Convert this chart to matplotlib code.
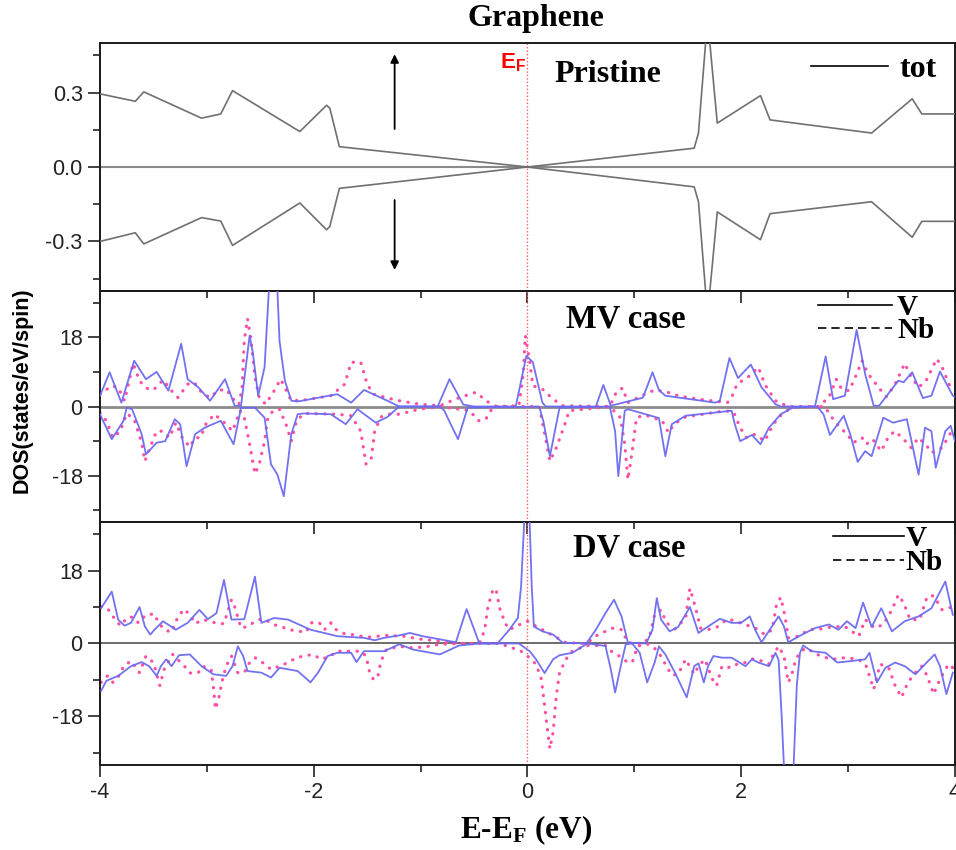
import matplotlib
matplotlib.use("Agg")
import matplotlib.pyplot as plt
from matplotlib.lines import Line2D
from matplotlib.ticker import MultipleLocator, FixedLocator

plt.rcParams["axes.unicode_minus"] = False
plt.rcParams["mathtext.fontset"] = "custom"
plt.rcParams["mathtext.rm"] = "Liberation Serif:bold"
plt.rcParams["mathtext.sf"] = "Liberation Sans:bold"

# ---------------- pristine graphene, total DOS ----------------
tot_up_e = [-4.0, -3.67, -3.59, -3.05, -2.87, -2.76, -2.13, -1.88, -1.85, -1.76, 0.0,
            1.56, 1.60, 1.685, 1.776, 2.18, 2.27, 3.22, 3.60, 3.69, 4.0]
tot_up = [0.295, 0.265, 0.303, 0.197, 0.214, 0.308, 0.143, 0.249, 0.238, 0.082, 0.0,
          0.076, 0.137, 0.60, 0.177, 0.288, 0.19, 0.137, 0.275, 0.214, 0.214]
tot_dn_e = [-4.0, -3.67, -3.59, -3.05, -2.87, -2.76, -2.13, -1.88, -1.85, -1.76, 0.0,
            1.56, 1.60, 1.685, 1.776, 2.18, 2.27, 3.22, 3.60, 3.69, 4.0]
tot_dn = [-0.30, -0.265, -0.31, -0.204, -0.218, -0.316, -0.145, -0.253, -0.24, -0.086, 0.0,
          -0.080, -0.14, -0.60, -0.181, -0.293, -0.188, -0.14, -0.283, -0.219, -0.219]

# ---------------- MV case ----------------
mv_v_up_e = [-4.00, -3.91, -3.80, -3.68, -3.57, -3.47, -3.36, -3.24, -3.18, -3.08, -2.97,
             -2.83, -2.74, -2.68, -2.60, -2.57, -2.52, -2.46, -2.42, -2.38, -2.34, -2.32,
             -2.27, -2.21, -2.15, -1.78, -1.65, -1.53, -1.31, -1.20, -0.84, -0.73, -0.60,
             -0.50, -0.11, -0.01, 0.05, 0.14, 0.17, 0.64, 0.71, 0.78, 1.08, 1.17, 1.23,
             1.29, 1.76, 1.80, 1.89, 1.97, 2.09, 2.19, 2.32, 2.37, 2.69, 2.79, 2.86, 2.97,
             3.08, 3.16, 3.24, 3.29, 3.47, 3.52, 3.60, 3.70, 3.78, 3.86, 3.98, 4.00]
mv_v_up = [2.8, 8.9, 1.0, 11.9, 7.1, 9.0, 4.1, 16.3, 7.1, 5.0, 1.5,
           7.1, 0.2, 0.2, 18.4, 14.0, 2.8, 10.2, 30.2, 40.0, 30.2, 17.0,
           6.7, 1.5, 1.3, 3.2, 1.0, 4.3, 1.5, 0.0, 0.0, 7.1, 0.5,
           0.0, 0.0, 13.2, 11.5, 1.0, 0.0, 0.0, 5.6, 0.2, 2.3, 8.9, 4.3,
           2.8, 1.0, 1.5, 12.6, 7.4, 10.9, 5.0, 0.6, 0.0, 0.0, 13.0, 1.9, 2.8,
           19.9, 8.4, 0.2, 0.2, 6.7, 6.3, 8.9, 2.2, 2.8, 9.1, 2.8, 2.5]
mv_v_dn_e = [-4.00, -3.89, -3.78, -3.75, -3.70, -3.61, -3.57, -3.47, -3.39, -3.30, -3.25,
             -3.19, -3.11, -3.02, -2.87, -2.75, -2.68, -2.55, -2.46, -2.40, -2.34, -2.28,
             -2.21, -2.15, -2.09, -1.84, -1.70, -1.59, -1.42, -1.31, -1.20, -0.82, -0.78,
             -0.65, -0.56, 0.11, 0.15, 0.21, 0.30, 0.77, 0.82, 0.85, 0.91, 0.94, 1.23,
             1.29, 1.35, 1.48, 1.91, 1.94, 1.99, 2.10, 2.18, 2.26, 2.37, 2.48, 2.71, 2.77,
             2.83, 2.96, 3.02, 3.09, 3.16, 3.22, 3.33, 3.42, 3.55, 3.66, 3.72, 3.78, 3.82,
             3.91, 3.96, 4.00]
mv_v_dn = [-2.0, -8.5, -3.7, -0.3, -0.7, -7.2, -12.4, -9.4, -9.0, -3.3, -4.6,
           -15.5, -7.2, -5.5, -3.7, -9.8, -0.3, -0.3, -2.9, -15.0, -17.7, -23.3,
           -7.2, -2.0, -1.8, -2.0, -4.6, -0.7, -4.2, -2.7, 0.0, 0.0, -1.0,
           -8.5, -0.3, 0.0, -4.0, -12.9, -0.3, 0.0, -6.4, -18.1, -1.1, -0.7, -3.0,
           -12.9, -4.6, -2.4, -1.1, -4.6, -9.0, -7.4, -9.8, -5.5, -2.0, -0.3, 0.0, -2.0,
           -7.4, -2.4, -7.2, -14.4, -11.6, -12.9, -2.9, -4.2, -3.3, -17.7, -5.5, -6.4, -15.9,
           -6.4, -5.0, -9.0]
mv_nb_up_e = [-4.00, -3.89, -3.83, -3.77, -3.69, -3.63, -3.57, -3.50, -3.41, -3.33, -3.27,
              -3.18, -3.12, -3.05, -2.97, -2.90, -2.82, -2.74, -2.70, -2.67, -2.65, -2.62,
              -2.59, -2.55, -2.51, -2.45, -2.37, -2.31, -2.27, -2.21, -2.09, -1.84, -1.71,
              -1.65, -1.56, -1.50, -1.44, -1.31, -1.20, -1.01, -0.82, -0.64, -0.48, -0.39,
              -0.29, -0.08, -0.04, -0.02, 0.02, 0.05, 0.14, 0.24, 0.33, 0.77, 0.83, 0.89,
              0.94, 1.10, 1.19, 1.30, 1.41, 1.60, 1.87, 1.91, 1.96, 2.08, 2.16, 2.22, 2.32,
              2.44, 2.72, 2.82, 2.89, 2.94, 3.01, 3.08, 3.13, 3.19, 3.31, 3.36, 3.44, 3.53,
              3.59, 3.66, 3.73, 3.83, 3.88, 3.97]
mv_nb_up = [3.2, 5.4, 4.9, 1.5, 11.2, 6.7, 4.8, 4.3, 6.9, 4.1, 2.3,
            5.8, 6.3, 3.7, 2.3, 4.1, 4.5, 1.5, 0.5, 5.0, 17.1, 22.8,
            18.0, 7.6, 2.3, 0.6, 4.1, 7.1, 4.9, 1.5, 1.7, 2.8, 5.8,
            11.5, 11.5, 5.8, 3.2, 2.2, 1.5, 0.6, 0.2, 2.3, 3.7, 1.5,
            0.0, 0.2, 8.4, 18.4, 11.9, 5.4, 4.5, 1.9, 0.2, 0.0, 3.7, 4.8,
            1.0, 3.2, 4.3, 3.8, 2.8, 1.9, 1.0, 2.3, 5.8, 8.0, 10.2, 5.8, 1.5,
            0.0, 0.0, 2.3, 7.1, 4.5, 4.1, 8.4, 11.9, 8.4, 4.1, 2.5, 5.8, 11.2,
            7.7, 5.0, 6.7, 12.4, 10.2, 4.1]
mv_nb_dn_e = [-4.00, -3.94, -3.88, -3.81, -3.75, -3.68, -3.61, -3.58, -3.52, -3.47, -3.41,
              -3.35, -3.29, -3.23, -3.16, -3.11, -3.06, -3.01, -2.93, -2.82, -2.76, -2.69,
              -2.65, -2.60, -2.55, -2.51, -2.46, -2.43, -2.38, -2.32, -2.26, -2.21, -2.16,
              -2.09, -1.78, -1.65, -1.56, -1.51, -1.46, -1.43, -1.37, -1.31, -1.20, -1.01,
              -0.82, -0.54, -0.46, -0.39, -0.32, 0.11, 0.18, 0.21, 0.27, 0.35, 0.39, 0.77,
              0.87, 0.91, 0.94, 0.98, 1.02, 1.10, 1.26, 1.32, 1.37, 1.48, 1.85, 1.93, 1.99,
              2.05, 2.13, 2.22, 2.30, 2.38, 2.47, 2.78, 2.85, 2.91, 2.99, 3.05, 3.13, 3.17,
              3.23, 3.31, 3.38, 3.44, 3.52, 3.59, 3.66, 3.75, 3.78, 3.88, 3.97]
mv_nb_dn = [-1.6, -3.7, -8.1, -6.4, -1.8, -3.3, -9.4, -14.2, -9.8, -6.4, -6.4,
            -8.1, -4.2, -8.1, -10.5, -8.1, -8.1, -4.6, -2.0, -4.6, -6.4, -1.1,
            -2.9, -9.8, -17.5, -15.0, -9.0, -2.9, -1.1, -0.7, -4.6, -9.0, -3.7,
            -1.8, -2.0, -2.4, -6.4, -15.0, -13.3, -6.4, -2.7, -2.0, -2.0, -0.7,
            0.0, -1.1, -3.7, -3.3, 0.0, 0.0, -9.8, -14.2, -10.7, -4.6, -1.1, 0.0,
            -2.9, -9.8, -19.0, -11.6, -2.9, -2.2, -3.7, -6.8, -4.6, -2.7, -1.1, -1.5, -5.5,
            -8.1, -7.2, -9.0, -4.6, -2.0, -0.3, 0.0, -2.9, -5.0, -7.2, -9.4, -8.1, -9.8,
            -8.5, -11.6, -7.7, -6.4, -8.5, -10.7, -8.1, -10.7, -12.0, -10.7, -6.4]

# ---------------- DV case ----------------
dv_v_up_e = [-3.99, -3.89, -3.83, -3.77, -3.71, -3.63, -3.58, -3.53, -3.49, -3.41, -3.29,
             -3.18, -3.07, -2.99, -2.91, -2.84, -2.77, -2.65, -2.55, -2.49, -2.37, -2.24,
             -2.03, -1.84, -1.78, -1.53, -1.43, -1.34, -1.20, -1.10, -0.98, -0.67, -0.57,
             -0.45, -0.28, -0.17, -0.09, -0.06, -0.03, -0.01, 0.02, 0.04, 0.06, 0.14, 0.24,
             0.33, 0.55, 0.64, 0.73, 0.81, 0.88, 0.94, 1.11, 1.17, 1.21, 1.25, 1.33, 1.41,
             1.52, 1.60, 1.69, 1.80, 1.91, 2.00, 2.08, 2.13, 2.19, 2.35, 2.40, 2.44, 2.57,
             2.69, 2.82, 2.91, 2.99, 3.07, 3.14, 3.22, 3.31, 3.41, 3.53, 3.66, 3.78, 3.91,
             3.98]
dv_v_up = [8.7, 12.8, 5.9, 4.4, 5.1, 9.0, 4.2, 2.2, 3.4, 5.5, 3.4,
           5.1, 8.3, 6.0, 7.5, 15.7, 5.9, 6.0, 16.5, 5.1, 6.3, 5.9,
           3.4, 2.2, 1.8, 1.4, 0.8, 1.4, 2.0, 2.6, 1.8, 0.3, 8.5,
           0.0, 0.0, 3.4, 6.3, 14.0, 30.4, 42.0, 30.4, 14.0, 4.2, 3.0, 2.2,
           0.2, 0.0, 3.4, 7.5, 10.8, 6.7, 0.2, 0.0, 3.4, 11.2, 5.9, 3.0, 4.1,
           9.0, 2.6, 4.2, 6.1, 5.1, 5.1, 6.7, 3.4, 0.3, 6.7, 4.2, 0.3, 2.2,
           3.8, 4.7, 3.4, 5.5, 3.8, 10.1, 4.1, 8.7, 3.0, 5.5, 6.7, 8.7, 15.3,
           7.1]
dv_v_dn_e = [-3.99, -3.94, -3.83, -3.71, -3.61, -3.54, -3.47, -3.43, -3.38, -3.33, -3.26,
             -3.16, -3.05, -2.94, -2.82, -2.76, -2.71, -2.66, -2.62, -2.49, -2.40, -2.32,
             -2.15, -2.03, -1.96, -1.87, -1.78, -1.65, -1.60, -1.53, -1.34, -1.20, -1.07,
             -0.82, -0.64, -0.45, -0.08, 0.02, 0.08, 0.16, 0.24, 0.30, 0.42, 0.56, 0.73,
             0.78, 0.82, 0.88, 0.92, 0.98, 1.05, 1.12, 1.19, 1.23, 1.29, 1.38, 1.49, 1.56,
             1.60, 1.65, 1.69, 1.74, 1.82, 1.91, 2.04, 2.10, 2.16, 2.26, 2.32, 2.35, 2.38,
             2.40, 2.44, 2.49, 2.52, 2.55, 2.58, 2.66, 2.79, 2.90, 3.04, 3.16, 3.20, 3.27,
             3.35, 3.44, 3.53, 3.63, 3.75, 3.81, 3.86, 3.92, 3.98]
dv_v_dn = [-11.7, -9.2, -8.0, -5.6, -4.6, -5.6, -8.0, -5.6, -3.9, -5.6, -2.9,
           -2.7, -5.6, -7.6, -8.0, -5.6, -0.7, -3.1, -6.8, -7.2, -8.4, -6.0,
           -6.8, -9.6, -7.2, -3.1, -2.3, -2.3, -4.6, -1.9, -1.9, -0.2, -1.5,
           -2.7, -0.5, 0.0, 0.0, -1.9, -3.9, -7.3, -3.9, -2.9, -2.3, 0.0, -0.6,
           -6.4, -12.1, -4.7, -0.2, 0.0, -2.3, -9.6, -4.7, -0.7, -2.7, -7.2, -13.3, -5.6,
           -4.9, -9.6, -5.6, -3.1, -3.5, -3.5, -5.6, -3.9, -4.7, -5.6, -2.3, -4.0, -18.6,
           -30.5, -42.0, -30.5, -10.4, -2.3, -0.5, -1.9, -2.3, -4.7, -4.3, -3.9, -2.3, -9.6,
           -6.0, -4.7, -5.6, -7.6, -4.3, -2.7, -5.6, -12.5, -7.2]
dv_nb_up_e = [-3.99, -3.93, -3.88, -3.81, -3.74, -3.69, -3.64, -3.57, -3.49, -3.46, -3.40,
              -3.33, -3.27, -3.21, -3.15, -3.11, -3.04, -2.97, -2.90, -2.84, -2.77, -2.74,
              -2.68, -2.62, -2.52, -2.46, -2.38, -2.30, -2.23, -2.13, -2.07, -2.03, -1.95,
              -1.90, -1.84, -1.79, -1.71, -1.64, -1.56, -1.48, -1.40, -1.32, -1.16, -1.01,
              -0.82, -0.64, -0.45, -0.40, -0.37, -0.32, -0.29, -0.26, -0.21, -0.17, -0.07,
              0.00, 0.05, 0.14, 0.25, 0.36, 0.55, 0.66, 0.80, 0.88, 0.94, 1.08, 1.14, 1.19,
              1.25, 1.30, 1.38, 1.48, 1.52, 1.57, 1.62, 1.68, 1.76, 1.87, 1.96, 2.02, 2.10,
              2.16, 2.22, 2.29, 2.33, 2.37, 2.41, 2.44, 2.54, 2.63, 2.75, 2.85, 2.97, 3.10,
              3.16, 3.25, 3.33, 3.41, 3.47, 3.52, 3.58, 3.67, 3.74, 3.80, 3.88, 3.97]
dv_nb_up = [9.1, 8.7, 6.7, 4.4, 6.5, 6.5, 5.1, 7.1, 7.3, 5.5, 3.4,
            2.8, 6.7, 8.5, 6.7, 4.9, 5.9, 5.5, 4.9, 4.9, 10.8, 9.1,
            3.8, 4.2, 5.9, 6.0, 4.7, 4.1, 3.4, 3.0, 2.8, 5.1, 5.2,
            3.4, 5.1, 3.4, 2.4, 2.2, 1.8, 1.6, 1.8, 2.0, 1.8, 1.1,
            0.6, 0.0, 0.0, 3.4, 9.1, 13.6, 12.8, 8.7, 5.1, 3.4, 4.7,
            5.5, 4.7, 3.4, 1.8, 0.2, 0.0, 2.2, 3.8, 3.4, 0.2, 0.0, 1.4, 7.1,
            8.3, 5.1, 3.6, 6.3, 13.6, 9.1, 3.8, 3.4, 3.8, 6.0, 5.5, 4.7, 4.2,
            3.4, 2.2, 3.4, 9.6, 11.4, 6.7, 1.4, 1.8, 3.4, 3.6, 4.1, 4.2, 1.8,
            5.9, 3.8, 4.7, 8.3, 12.0, 10.0, 5.9, 5.9, 11.6, 11.8, 8.3, 9.0]
dv_nb_dn_e = [-3.99, -3.93, -3.88, -3.81, -3.78, -3.71, -3.63, -3.57, -3.50, -3.44, -3.40,
              -3.32, -3.21, -3.16, -3.08, -3.04, -2.96, -2.94, -2.92, -2.89, -2.86, -2.82,
              -2.77, -2.71, -2.65, -2.60, -2.55, -2.48, -2.40, -2.32, -2.24, -2.16, -2.09,
              -2.01, -1.93, -1.84, -1.79, -1.71, -1.64, -1.56, -1.51, -1.48, -1.44, -1.40,
              -1.37, -1.32, -1.20, -1.07, -0.95, -0.82, -0.64, -0.26, -0.14, -0.06, 0.00,
              0.08, 0.13, 0.16, 0.19, 0.21, 0.24, 0.27, 0.30, 0.36, 0.42, 0.55, 0.73, 0.80,
              0.86, 0.92, 0.98, 1.03, 1.11, 1.17, 1.23, 1.30, 1.35, 1.41, 1.48, 1.56, 1.60,
              1.66, 1.73, 1.77, 1.82, 1.91, 1.96, 2.04, 2.11, 2.19, 2.26, 2.30, 2.35, 2.40,
              2.44, 2.47, 2.51, 2.55, 2.60, 2.66, 2.74, 2.85, 2.97, 3.10, 3.17, 3.24, 3.30,
              3.38, 3.44, 3.50, 3.56, 3.63, 3.69, 3.74, 3.80, 3.86, 3.94, 3.98]
dv_nb_dn = [-9.6, -8.0, -9.6, -7.6, -5.6, -4.3, -7.2, -3.1, -4.7, -10.4, -6.4,
            -2.7, -5.6, -7.3, -7.2, -5.6, -6.4, -10.4, -16.2, -13.7, -9.6, -5.6,
            -3.1, -7.2, -7.2, -4.7, -3.5, -4.7, -6.4, -5.6, -4.7, -3.5, -3.1,
            -2.7, -3.9, -3.1, -1.9, -1.9, -1.9, -1.9, -3.1, -6.8, -9.0, -8.0,
            -4.3, -1.5, -0.7, -1.1, -0.8, -0.2, 0.0, 0.0, -1.1, -1.9, -3.1,
            -5.1, -8.8, -15.3, -21.9, -26.0, -21.9, -12.9, -7.2, -3.9, -1.9, -0.5, -0.5, -2.3,
            -3.1, -4.3, -4.7, -0.7, 0.0, -0.7, -2.3, -5.6, -7.8, -7.6, -3.9, -7.6, -5.6,
            -3.9, -8.8, -10.4, -5.6, -6.0, -5.1, -4.7, -3.8, -4.3, -5.1, -2.7, -0.7, -3.1,
            -9.6, -8.0, -3.9, -2.3, -1.1, -1.9, -3.1, -3.9, -3.5, -3.9, -5.6, -11.3, -5.1,
            -6.0, -10.4, -13.3, -9.6, -7.2, -5.6, -8.0, -12.5, -8.8, -5.1, -6.0]

# ---------------- styling ----------------
SANS = "Liberation Sans"
SERIF = "Liberation Serif"
BLUE = "#6a6af2"
PINK = "#ff4fa3"
GREY = "#707070"
EF_RED = "#ff5a5a"
TICK_FS = 15.5

fig = plt.figure(figsize=(9.56, 8.5), dpi=100)
left, width = 0.1046, 0.8943
ax_top = fig.add_axes([left, 0.6576, width, 0.2918])
ax_mid = fig.add_axes([left, 0.3859, width, 0.2717])
ax_bot = fig.add_axes([left, 0.1000, width, 0.2859])
axes = [ax_top, ax_mid, ax_bot]

for ax in axes:
    ax.set_facecolor("none")
    ax.set_xlim(-4, 4)
    ax.xaxis.set_major_locator(MultipleLocator(2))
    ax.xaxis.set_minor_locator(MultipleLocator(1))
    ax.tick_params(which="major", direction="out", length=8.5, width=1.2,
                   labelsize=TICK_FS, colors="#222222", pad=4)
    ax.tick_params(which="minor", direction="out", length=5, width=1.2, colors="#222222")
    for lab in ax.get_xticklabels() + ax.get_yticklabels():
        lab.set_fontfamily(SANS)
    for sp in ax.spines.values():
        sp.set_linewidth(1.4)
        sp.set_color("#1a1a1a")
    ax.axvline(0, color=EF_RED, lw=1.0, ls=(0, (1, 1.5)), zorder=1)

ax_top.tick_params(axis="x", labelbottom=False)
ax_mid.tick_params(axis="x", labelbottom=False)

# top panel
ax_top.set_ylim(-0.5, 0.5)
ax_top.yaxis.set_major_locator(FixedLocator([-0.3, 0.0, 0.3]))
ax_top.yaxis.set_minor_locator(FixedLocator([-0.45, -0.15, 0.15, 0.45]))
ax_top.set_yticklabels(["-0.3", "0.0", "0.3"], fontfamily=SANS)
ax_top.axhline(0, color="#8a8a8a", lw=1.5, zorder=1)
ax_top.plot(tot_up_e, tot_up, color=GREY, lw=1.2, zorder=3)
ax_top.plot(tot_dn_e, tot_dn, color=GREY, lw=1.2, zorder=3)
ax_top.annotate("", xy=(-1.243, 0.466), xytext=(-1.243, 0.142),
                arrowprops=dict(arrowstyle="-|>", color="black", lw=1.3, mutation_scale=12))
ax_top.annotate("", xy=(-1.243, -0.426), xytext=(-1.243, -0.122),
                arrowprops=dict(arrowstyle="-|>", color="black", lw=1.3, mutation_scale=12))
ax_top.text(0.532, 0.843, "Pristine", transform=ax_top.transAxes, ha="left", va="baseline",
            fontfamily=SERIF, fontweight="bold", fontsize=23)
ax_top.text(0.468, 0.899, r"$\mathsf{E}_\mathsf{F}$", transform=ax_top.transAxes,
            ha="left", va="baseline", color="red", fontsize=16)

# MV and DV panels
for ax in (ax_mid, ax_bot):
    ax.set_ylim(-30, 30)
    ax.yaxis.set_major_locator(FixedLocator([-18, 0, 18]))
    ax.yaxis.set_minor_locator(FixedLocator([-27, -9, 9, 27]))
    ax.set_yticklabels(["-18", "0", "18"], fontfamily=SANS)

ax_mid.axhline(0, color="#8c8c8c", lw=2.0, zorder=1)
ax_bot.axhline(0, color="#555555", lw=1.2, zorder=1)

dot_style = dict(color=PINK, lw=2.3, ls=(0, (0.1, 2.6)), dash_capstyle="round", zorder=2)
line_style = dict(color=BLUE, lw=1.3, alpha=0.95, zorder=3)

ax_mid.plot(mv_nb_up_e, mv_nb_up, **dot_style)
ax_mid.plot(mv_nb_dn_e, mv_nb_dn, **dot_style)
ax_mid.plot(mv_v_up_e, mv_v_up, **line_style)
ax_mid.plot(mv_v_dn_e, mv_v_dn, **line_style)

ax_bot.plot(dv_nb_up_e, dv_nb_up, **dot_style)
ax_bot.plot(dv_nb_dn_e, dv_nb_dn, **dot_style)
ax_bot.plot(dv_v_up_e, dv_v_up, **line_style)
ax_bot.plot(dv_v_dn_e, dv_v_dn, **line_style)

ax_mid.text(0.545, 0.840, "MV case", transform=ax_mid.transAxes, ha="left", va="baseline",
            fontfamily=SERIF, fontweight="bold", fontsize=23.5)
ax_bot.text(0.553, 0.856, "DV case", transform=ax_bot.transAxes, ha="left", va="baseline",
            fontfamily=SERIF, fontweight="bold", fontsize=23.5)

# legends
leg_font = dict(family=SERIF, weight="bold", size=21)
ax_top.legend([Line2D([], [], color="black", lw=1.2)], ["tot"], loc="center left",
              bbox_to_anchor=(0.8316, 0.895), frameon=False, handlelength=2.4,
              handletextpad=0.36, borderpad=0, borderaxespad=0,
              prop=dict(family=SERIF, weight="bold", size=23))
pair = [Line2D([], [], color="black", lw=1.2),
        Line2D([], [], color="black", lw=1.2, ls=(0, (5, 3)))]
ax_mid.legend(pair, ["V", "Nb"], loc="center left", bbox_to_anchor=(0.8398, 0.878),
              frameon=False, handlelength=2.55, handletextpad=0.16, labelspacing=-0.12,
              borderpad=0, borderaxespad=0, prop=leg_font)
ax_bot.legend(pair, ["V", "Nb"], loc="center left", bbox_to_anchor=(0.857, 0.883),
              frameon=False, handlelength=2.45, handletextpad=0.05, labelspacing=-0.1,
              borderpad=0, borderaxespad=0, prop=leg_font)

# figure-level text
fig.text(0.4885, 0.969, "Graphene", ha="left", va="baseline",
         fontfamily=SERIF, fontweight="bold", fontsize=23)
fig.text(0.481, 0.0141, r"E-E$\mathrm{_F}$ (eV)", ha="left", va="baseline",
         fontfamily=SERIF, fontweight="bold", fontsize=22.5)
fig.text(0.023, 0.541, "DOS(states/eV/spin)", rotation=90, ha="center", va="center",
         fontfamily=SANS, fontweight="bold", fontsize=15.5)

fig.savefig("out.png", dpi=100)
